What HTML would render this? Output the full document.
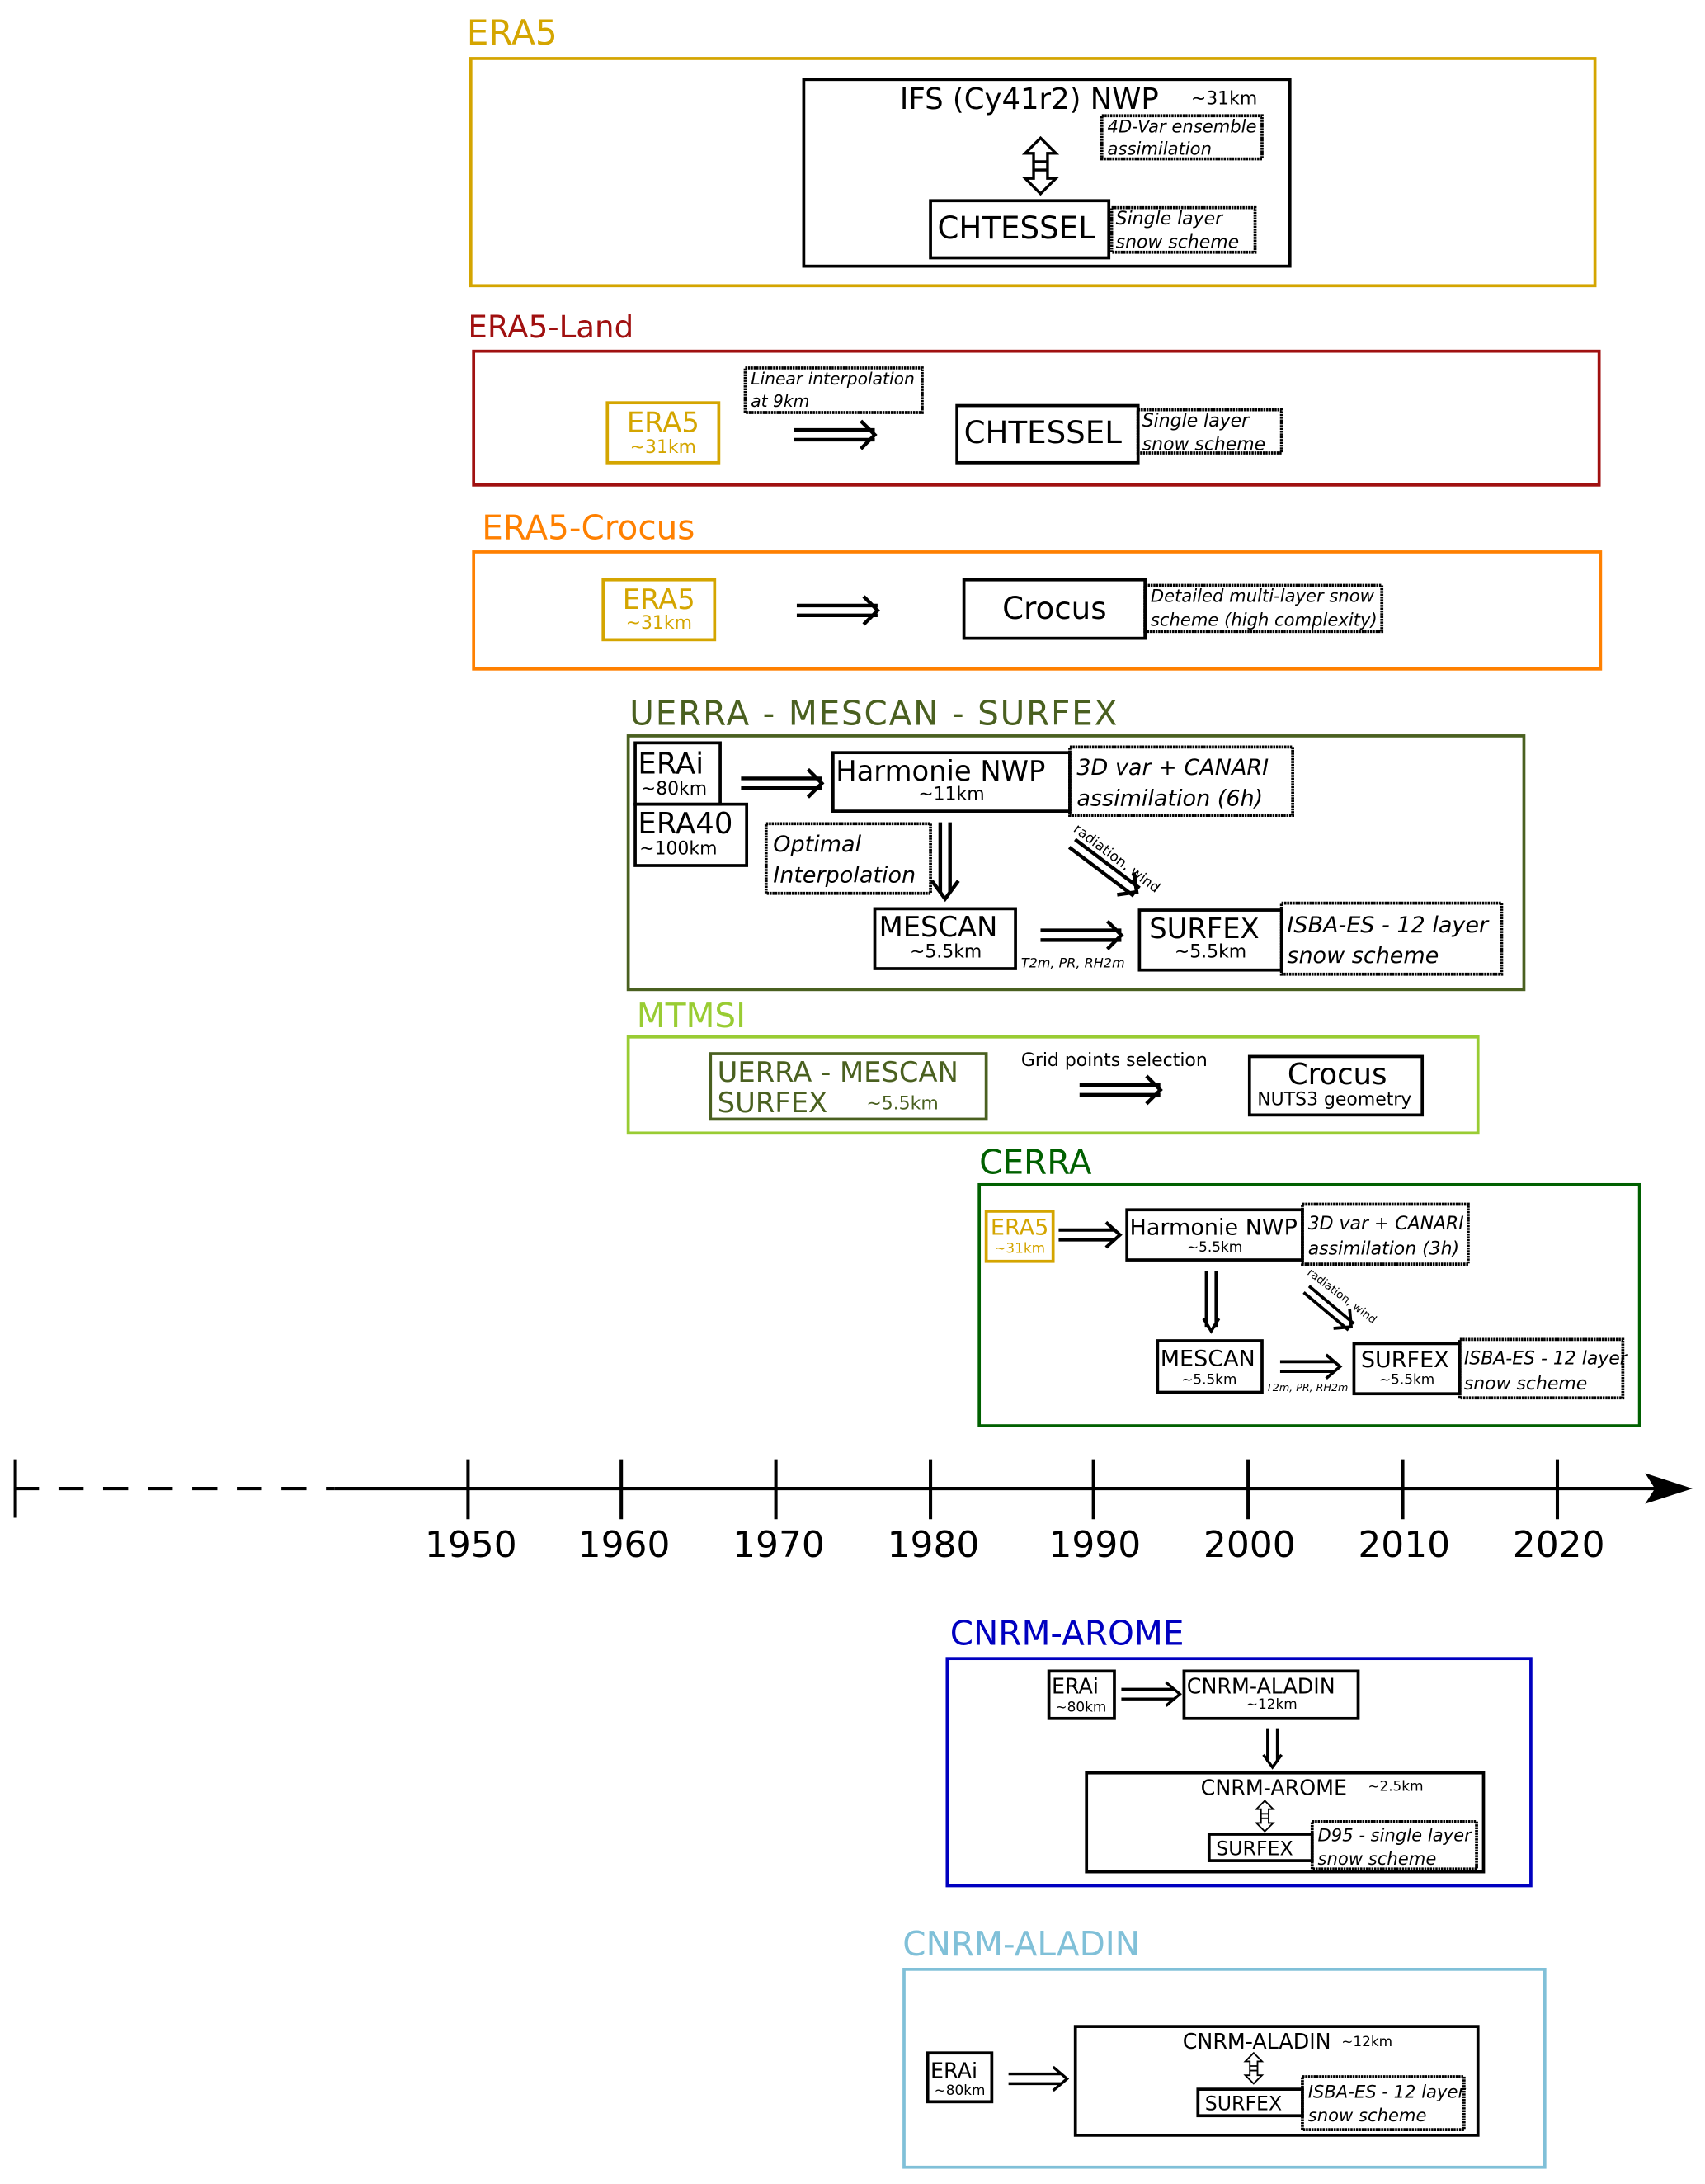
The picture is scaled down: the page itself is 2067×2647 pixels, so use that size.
<!DOCTYPE html>
<html><head><meta charset="utf-8"><style>
html,body{margin:0;padding:0;background:#fff}
svg{display:block}
text{font-family:"DejaVu Sans","Liberation Sans",sans-serif}
.i{font-style:italic}
</style></head><body>
<svg width="2067" height="2647" viewBox="0 0 1224 1567" preserveAspectRatio="none" xmlns="http://www.w3.org/2000/svg">
<defs>
<g id="ra"><path d="M0,-3.5H-58M0,3.5H-58" stroke="#000" stroke-width="2.6"/><path d="M-10,-10L0,0L-10,10" fill="none" stroke="#000" stroke-width="2.6"/></g>
<g id="ud"><path d="M0,0L11,11H5V17H-5V11H-11Z M0,40L11,29H5V23H-5V29H-11Z M-5,17V23M5,17V23" fill="#fff" stroke="#000" stroke-width="2"/></g>
</defs>
<g fill="none" stroke-width="2.2">
<text x="335" y="32" font-size="25" fill="#d4a500" stroke="none">ERA5</text>
<rect x="338" y="42" width="807" height="163" stroke="#d4a500"/>
<rect x="577" y="57" width="349" height="134" stroke="#000"/>
<rect x="668" y="144" width="128" height="41" stroke="#000"/>
<rect x="791" y="83" width="115" height="31" stroke="#000" stroke-dasharray="1.5,0.5"/>
<rect x="798" y="149" width="103" height="32" stroke="#000" stroke-dasharray="1.5,0.5"/>
<rect x="340" y="252" width="808" height="96" stroke="#a01010"/>
<rect x="436" y="289" width="80" height="43" stroke="#d4a500"/>
<rect x="535" y="264" width="127" height="32" stroke="#000" stroke-dasharray="1.5,0.5"/>
<rect x="687" y="291" width="130" height="41" stroke="#000"/>
<rect x="817" y="294" width="103" height="31" stroke="#000" stroke-dasharray="1.5,0.5"/>
<rect x="340" y="396" width="809" height="84" stroke="#ff8000"/>
<rect x="433" y="416" width="80" height="43" stroke="#d4a500"/>
<rect x="692" y="416" width="130" height="42" stroke="#000"/>
<rect x="822" y="420" width="170" height="33" stroke="#000" stroke-dasharray="1.5,0.5"/>
<rect x="451" y="528" width="643" height="182" stroke="#4a6020"/>
<rect x="456" y="533" width="61" height="44" stroke="#000"/>
<rect x="456" y="577" width="80" height="44" stroke="#000"/>
<rect x="598" y="540" width="170" height="42" stroke="#000"/>
<rect x="768" y="536" width="160" height="49" stroke="#000" stroke-dasharray="1.5,0.5"/>
<rect x="550" y="591" width="118" height="50" stroke="#000" stroke-dasharray="1.5,0.5"/>
<rect x="628" y="652" width="101" height="43" stroke="#000"/>
<rect x="818" y="653" width="102" height="43" stroke="#000"/>
<rect x="920" y="648" width="158" height="51" stroke="#000" stroke-dasharray="1.5,0.5"/>
<rect x="451" y="744" width="610" height="69" stroke="#99cc33"/>
<rect x="510" y="756" width="198" height="47" stroke="#4a6020"/>
<rect x="897" y="758" width="124" height="42" stroke="#000"/>
<rect x="703" y="850" width="474" height="173" stroke="#006000"/>
<rect x="708" y="869" width="48" height="36" stroke="#d4a500"/>
<rect x="809" y="868" width="126" height="36" stroke="#000"/>
<rect x="935" y="864" width="119" height="43" stroke="#000" stroke-dasharray="1.5,0.5"/>
<rect x="831" y="962" width="75" height="37" stroke="#000"/>
<rect x="972" y="964" width="76" height="36" stroke="#000"/>
<rect x="1048" y="961" width="117" height="42" stroke="#000" stroke-dasharray="1.5,0.5"/>
<rect x="680" y="1190" width="419" height="163" stroke="#0000c0"/>
<rect x="753" y="1199" width="47" height="34" stroke="#000"/>
<rect x="850" y="1199" width="125" height="34" stroke="#000"/>
<rect x="780" y="1272" width="285" height="71" stroke="#000"/>
<rect x="868" y="1316" width="74" height="19" stroke="#000"/>
<rect x="942" y="1307" width="118" height="34" stroke="#000" stroke-dasharray="1.5,0.5"/>
<rect x="649" y="1413" width="460" height="142" stroke="#80c0d8"/>
<rect x="666" y="1473" width="46" height="35" stroke="#000"/>
<rect x="772" y="1454" width="289" height="78" stroke="#000"/>
<rect x="860" y="1499" width="75" height="19" stroke="#000"/>
<rect x="935" y="1490" width="116" height="38" stroke="#000" stroke-dasharray="1.5,0.5"/>
</g>
<use href="#ud" x="747" y="99"/>
<use href="#ra" x="628" y="312"/>
<use href="#ra" x="630" y="438"/>
<use href="#ra" x="590" y="562"/>
<path d="M675,590V640M682,590V640" stroke="#000" stroke-width="2.6"/><path d="M669,632L678.5,645L688,632" fill="none" stroke="#000" stroke-width="2.6"/>
<g transform="translate(816,640) rotate(37)"><use href="#ra"/></g>
<use href="#ra" x="805" y="671"/>
<use href="#ra" x="833" y="782"/>
<path d="M760,882.5H800M760,889.5H800M794,877L804,886L794,895" fill="none" stroke="#000" stroke-width="2.4"/>
<path d="M866,912V952M873,912V952M864,946L869.5,955L875,946" fill="none" stroke="#000" stroke-width="2.2"/>
<g transform="translate(970,952) rotate(40)"><path d="M0,-3H-42M0,3H-42" stroke="#000" stroke-width="2.2"/><path d="M-9,-9L0,0L-9,9" fill="none" stroke="#000" stroke-width="2.2"/></g>
<path d="M919,977H958M919,984H958M952,972L962,980.5L952,989" fill="none" stroke="#000" stroke-width="2.2"/>
<path d="M805,1212H843M805,1219H843M837,1207L847,1215.5L837,1224" fill="none" stroke="#000" stroke-width="2"/>
<path d="M910,1240V1264M917,1240V1264M907,1259L913.5,1268L920,1259" fill="none" stroke="#000" stroke-width="2"/>
<g transform="translate(908,1292) scale(0.55)"><use href="#ud"/></g>
<path d="M724,1488H762M724,1495H762M756,1483L766,1491.5L756,1500" fill="none" stroke="#000" stroke-width="2"/>
<g transform="translate(900,1473) scale(0.55)"><use href="#ud"/></g>
<path d="M10,1068H240" stroke="#000" stroke-width="2.4" stroke-dasharray="18,14"/>
<path d="M240,1068H1190" stroke="#000" stroke-width="2.4"/>
<path d="M1181,1057L1215,1068L1181,1079L1188,1068Z" fill="#000"/>
<path d="M11,1047V1089M336,1047V1090M446,1047V1090M557,1047V1090M668,1047V1090M785,1047V1090M896,1047V1090M1007,1047V1090M1118,1047V1090" stroke="#000" stroke-width="2.4"/>
<g font-size="26" text-anchor="middle">
<text x="338" y="1117">1950</text><text x="448" y="1117">1960</text><text x="559" y="1117">1970</text><text x="670" y="1117">1980</text><text x="786" y="1117">1990</text><text x="897" y="1117">2000</text><text x="1008" y="1117">2010</text><text x="1119" y="1117">2020</text>
</g>
<g fill="#000">
<text x="646" y="78" font-size="21">IFS (Cy41r2) NWP</text>
<text x="855" y="75" font-size="13">~31km</text>
<text x="795" y="95" font-size="12.5" class="i">4D-Var ensemble</text>
<text x="795" y="111" font-size="12.5" class="i">assimilation</text>
<text x="673" y="171" font-size="22">CHTESSEL</text>
<text x="801" y="161" font-size="13" class="i">Single layer</text>
<text x="801" y="178" font-size="13" class="i">snow scheme</text>
<text x="336" y="242" font-size="22" fill="#a01010">ERA5-Land</text>
<text x="476" y="310" font-size="20" fill="#d4a500" text-anchor="middle">ERA5</text>
<text x="476" y="325" font-size="13" fill="#d4a500" text-anchor="middle">~31km</text>
<text x="539" y="276" font-size="12" class="i">Linear interpolation</text>
<text x="539" y="292" font-size="12" class="i">at 9km</text>
<text x="692" y="318" font-size="22">CHTESSEL</text>
<text x="820" y="306" font-size="13" class="i">Single layer</text>
<text x="820" y="323" font-size="13" class="i">snow scheme</text>
<text x="346" y="387" font-size="24" fill="#ff8000">ERA5-Crocus</text>
<text x="473" y="437" font-size="20" fill="#d4a500" text-anchor="middle">ERA5</text>
<text x="473" y="451" font-size="13" fill="#d4a500" text-anchor="middle">~31km</text>
<text x="757" y="444" font-size="22" text-anchor="middle">Crocus</text>
<text x="826" y="432" font-size="12.5" class="i">Detailed multi-layer snow</text>
<text x="826" y="449" font-size="12.5" class="i">scheme (high complexity)</text>
<text x="452" y="520" font-size="24" fill="#4a6020" textLength="350">UERRA - MESCAN - SURFEX</text>
<text x="458" y="555" font-size="21">ERAi</text>
<text x="460" y="570" font-size="13">~80km</text>
<text x="458" y="598" font-size="21">ERA40</text>
<text x="459" y="613" font-size="13">~100km</text>
<text x="600" y="560" font-size="20">Harmonie NWP</text>
<text x="683" y="574" font-size="13" text-anchor="middle">~11km</text>
<text x="773" y="556" font-size="16" class="i">3D var + CANARI</text>
<text x="773" y="578" font-size="16" class="i">assimilation (6h)</text>
<text x="555" y="611" font-size="16" class="i">Optimal</text>
<text x="555" y="633" font-size="16" class="i">Interpolation</text>
<text x="770" y="596" font-size="10" transform="rotate(37 770 596)">radiation, wind</text>
<text x="631" y="672" font-size="20">MESCAN</text>
<text x="679" y="687" font-size="13" text-anchor="middle">~5.5km</text>
<text x="733" y="694" font-size="9.5" class="i">T2m, PR, RH2m</text>
<text x="825" y="673" font-size="20">SURFEX</text>
<text x="869" y="687" font-size="13" text-anchor="middle">~5.5km</text>
<text x="924" y="669" font-size="16" class="i">ISBA-ES - 12 layer</text>
<text x="924" y="691" font-size="16" class="i">snow scheme</text>
<text x="457" y="737" font-size="24" fill="#99cc33">MTMSI</text>
<text x="515" y="776" font-size="20" fill="#4a6020">UERRA - MESCAN</text>
<text x="515" y="798" font-size="20" fill="#4a6020">SURFEX</text>
<text x="622" y="796" font-size="13" fill="#4a6020">~5.5km</text>
<text x="733" y="765" font-size="13">Grid points selection</text>
<text x="960" y="778" font-size="21" text-anchor="middle">Crocus</text>
<text x="958" y="793" font-size="13" text-anchor="middle">NUTS3 geometry</text>
<text x="703" y="842" font-size="24" fill="#006000">CERRA</text>
<text x="732" y="886" font-size="16" fill="#d4a500" text-anchor="middle">ERA5</text>
<text x="732" y="899" font-size="10" fill="#d4a500" text-anchor="middle">~31km</text>
<text x="811" y="886" font-size="16">Harmonie NWP</text>
<text x="872" y="898" font-size="10" text-anchor="middle">~5.5km</text>
<text x="939" y="882" font-size="13" class="i">3D var + CANARI</text>
<text x="939" y="900" font-size="13" class="i">assimilation (3h)</text>
<text x="938" y="914" font-size="8" transform="rotate(37 938 914)">radiation, wind</text>
<text x="833" y="980" font-size="16">MESCAN</text>
<text x="868" y="993" font-size="10" text-anchor="middle">~5.5km</text>
<text x="909" y="998" font-size="7.5" class="i">T2m, PR, RH2m</text>
<text x="977" y="981" font-size="16">SURFEX</text>
<text x="1010" y="993" font-size="10" text-anchor="middle">~5.5km</text>
<text x="1051" y="979" font-size="13" class="i">ISBA-ES - 12 layer</text>
<text x="1051" y="997" font-size="13" class="i">snow scheme</text>
<text x="682" y="1180" font-size="24" fill="#0000c0">CNRM-AROME</text>
<text x="755" y="1215" font-size="15">ERAi</text>
<text x="776" y="1228" font-size="10" text-anchor="middle">~80km</text>
<text x="852" y="1215" font-size="15">CNRM-ALADIN</text>
<text x="913" y="1226" font-size="10" text-anchor="middle">~12km</text>
<text x="862" y="1288" font-size="15">CNRM-AROME</text>
<text x="982" y="1285" font-size="10">~2.5km</text>
<text x="873" y="1331" font-size="14">SURFEX</text>
<text x="946" y="1321" font-size="12.5" class="i">D95 - single layer</text>
<text x="946" y="1338" font-size="12.5" class="i">snow scheme</text>
<text x="648" y="1403" font-size="24" fill="#80c0d8">CNRM-ALADIN</text>
<text x="668" y="1491" font-size="15">ERAi</text>
<text x="689" y="1503" font-size="10" text-anchor="middle">~80km</text>
<text x="849" y="1470" font-size="15">CNRM-ALADIN</text>
<text x="963" y="1468" font-size="10">~12km</text>
<text x="865" y="1514" font-size="14">SURFEX</text>
<text x="939" y="1505" font-size="12.5" class="i">ISBA-ES - 12 layer</text>
<text x="939" y="1522" font-size="12.5" class="i">snow scheme</text>
</g>
</svg>
</body></html>
